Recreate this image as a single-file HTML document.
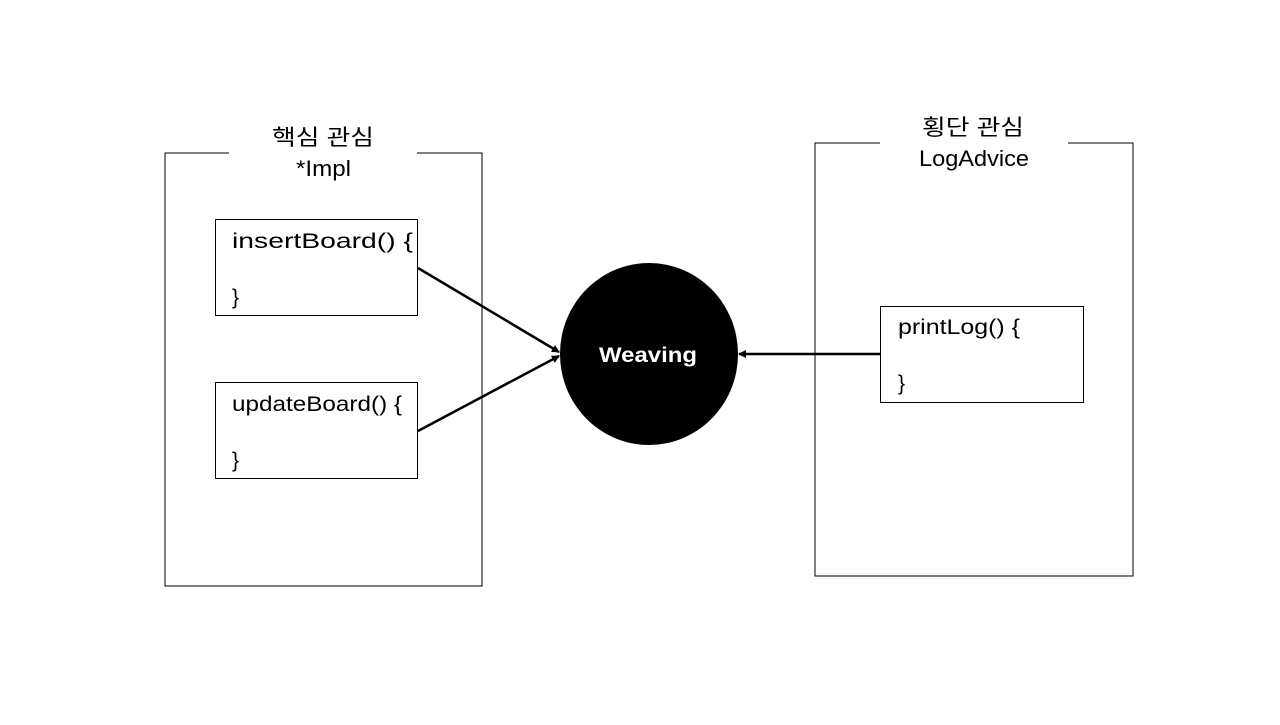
<!DOCTYPE html>
<html><head><meta charset="utf-8"><style>
body{margin:0;width:1280px;height:720px;background:#fff;overflow:hidden}
svg text{font-family:"Liberation Sans","Noto Sans CJK KR",sans-serif;fill:#000}
</style></head><body>
<svg width="1280" height="720" viewBox="0 0 1280 720">
<defs><marker id="a" markerWidth="8" markerHeight="8" refX="7" refY="4" orient="auto" markerUnits="userSpaceOnUse"><path d="M0,0L8,4L0,8z" fill="#000"/></marker></defs>
<g fill="none" stroke="#000" stroke-width="1">
<path d="M229,153H165V586H482V153H417"/>
<path d="M880,143H815V576H1133V143H1068"/>
<rect x="215.5" y="219.5" width="202" height="96"/>
<rect x="215.5" y="382.5" width="202" height="96"/>
<rect x="880.5" y="306.5" width="203" height="96"/>
</g>
<text x="272" y="145" font-size="22" textLength="102" lengthAdjust="spacingAndGlyphs">핵심 관심</text>
<text x="296" y="176" font-size="22" textLength="55" lengthAdjust="spacingAndGlyphs">*Impl</text>
<text x="922" y="135" font-size="22" textLength="102" lengthAdjust="spacingAndGlyphs">횡단 관심</text>
<text x="919" y="166" font-size="22" textLength="110" lengthAdjust="spacingAndGlyphs">LogAdvice</text>
<text x="232" y="248" font-size="21" textLength="181" lengthAdjust="spacingAndGlyphs">insertBoard()  {</text>
<text x="232" y="304" font-size="21">}</text>
<text x="232" y="411" font-size="21" textLength="170" lengthAdjust="spacingAndGlyphs">updateBoard()  {</text>
<text x="232" y="467" font-size="21">}</text>
<text x="898" y="334" font-size="21" textLength="122" lengthAdjust="spacingAndGlyphs">printLog()  {</text>
<text x="898" y="390" font-size="21">}</text>
<ellipse cx="649" cy="354" rx="89" ry="91" fill="#000"/>
<text x="599" y="362" font-size="21" font-weight="bold" textLength="98" lengthAdjust="spacingAndGlyphs" style="fill:#fff">Weaving</text>
<g stroke="#000" stroke-width="2.5" marker-end="url(#a)">
<line x1="418" y1="268" x2="559" y2="352"/>
<line x1="418" y1="431" x2="559" y2="356"/>
<line x1="880" y1="354" x2="739" y2="354"/>
</g>
</svg>
</body></html>
